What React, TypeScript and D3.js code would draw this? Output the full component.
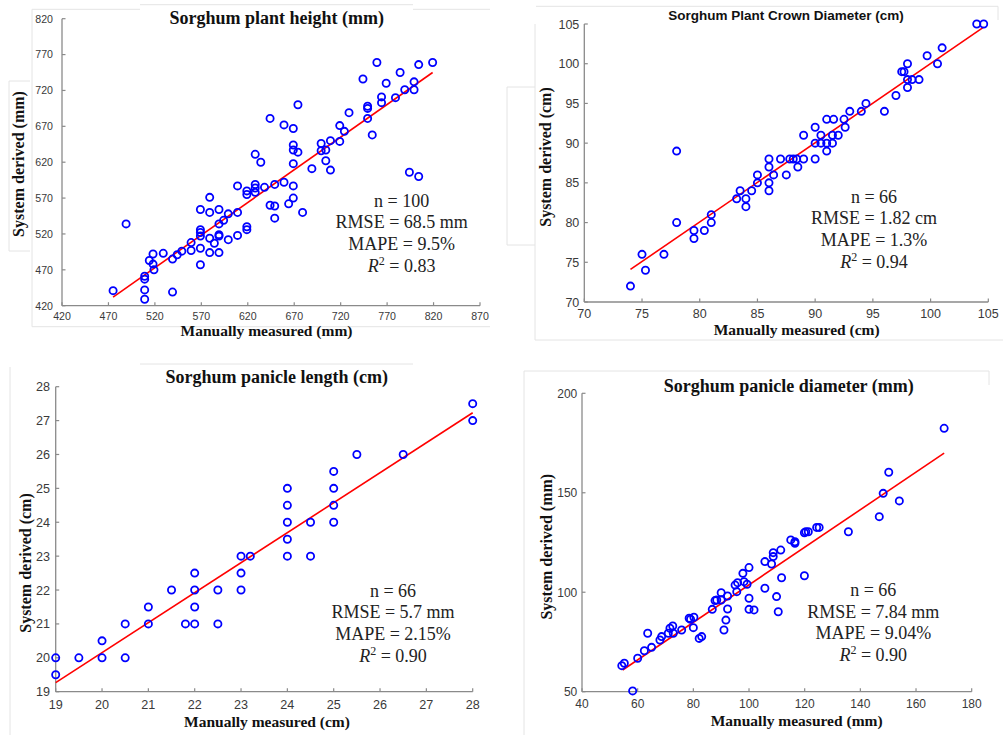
import React from "react";
import * as d3 from "d3";

type Pt = [number, number];

// plant height (mm)
const plantHeightPoints: Pt[] = [
  [475, 441], [489, 534], [509, 461], [509, 457], [509, 442], [509, 429],
  [514, 483], [518, 492], [518, 478], [519, 470], [529, 493], [539, 439],
  [539, 485], [544, 491], [549, 496], [559, 508], [559, 497], [569, 554],
  [569, 526], [569, 522], [569, 517], [569, 500], [569, 477], [579, 571],
  [579, 550], [579, 514], [579, 494], [584, 507], [589, 554], [589, 534],
  [589, 519], [589, 517], [589, 494], [594, 539], [599, 548], [599, 512],
  [609, 550], [609, 518], [619, 530], [619, 526], [619, 575], [619, 580],
  [609, 587], [628, 589], [628, 584], [628, 578], [628, 631], [634, 620],
  [638, 585], [644, 681], [649, 589], [659, 592], [659, 672], [669, 667],
  [669, 644], [669, 637], [674, 700], [674, 634], [669, 618], [669, 587],
  [669, 570], [689, 611], [699, 646], [699, 636], [704, 637], [704, 622],
  [709, 609], [709, 650], [719, 671], [719, 649], [724, 663], [729, 689],
  [744, 736], [749, 698], [749, 695], [749, 681], [754, 658], [759, 759],
  [764, 711], [764, 703], [769, 730], [779, 710], [784, 745], [789, 721],
  [794, 606], [799, 721], [799, 732], [804, 600], [804, 756], [819, 759],
  [644, 560], [649, 559], [649, 542], [664, 562], [679, 550],
];
const plantHeightFit: Pt[] = [[475, 432], [819, 745]];
const plantHeightTicks = [420, 470, 520, 570, 620, 670, 720, 770, 820, 870];
const plantHeightYTicks = [420, 470, 520, 570, 620, 670, 720, 770, 820];
const plantHeightStats = ["n = 100", "RMSE = 68.5 mm", "MAPE = 9.5%", "0.83"];

// crown diameter (cm)
const crownPoints: Pt[] = [
  [74, 72], [75, 76], [75.3, 74], [76.9, 76], [78, 80], [78, 89], [79.5, 79],
  [79.5, 78], [80.4, 79], [81, 80], [81, 81], [83.2, 83], [83.5, 84], [84, 83],
  [84, 82], [84.5, 84], [85, 86], [85, 85], [86, 88], [86, 87], [86, 85],
  [86, 84], [86.4, 86], [87, 88], [87.5, 86], [87.8, 88], [88.1, 88],
  [88.4, 88], [88.5, 87], [89, 91], [89, 88], [90, 92], [90, 90], [90, 88],
  [90.5, 91], [90.5, 90], [91, 93], [91, 90], [91, 89], [91.5, 91], [91.5, 90],
  [91.6, 93], [92, 91], [92.5, 93], [92.6, 92], [93, 94], [94, 94], [94.4, 95],
  [96, 94], [97, 96], [97.5, 99], [97.7, 99], [98, 100], [98, 98], [98.4, 98],
  [98, 97], [99, 98], [99.7, 101], [100.6, 100], [101, 102], [104, 105],
  [104.6, 105],
];
const crownFit: Pt[] = [[74, 74.1], [104.6, 104.6]];
const crownTicks = [70, 75, 80, 85, 90, 95, 100, 105];
const crownStats = ["n = 66", "RMSE = 1.82 cm", "MAPE = 1.3%", "0.94"];

// panicle length (cm)
const panicleLengthPoints: Pt[] = [
  [19, 20], [19, 19.5], [19.5, 20], [20, 20.5], [20, 20], [20.5, 21], [20.5, 20],
  [21, 21.5], [21, 21], [21.5, 22], [21.8, 21], [22, 22.5], [22, 22], [22, 21.5],
  [22, 21], [22.5, 22], [22.5, 21], [23, 23], [23, 22.5], [23, 22], [23.2, 23],
  [24, 25], [24, 24.5], [24, 24], [24, 23.5], [24, 23], [24.5, 24], [24.5, 23],
  [25, 25.5], [25, 25], [25, 24.5], [25, 24], [25.5, 26], [26.5, 26],
  [28, 27.5], [28, 27],
];
const panicleLengthFit: Pt[] = [[19, 19.27], [28, 27.23]];
const panicleLengthTicks = [19, 20, 21, 22, 23, 24, 25, 26, 27, 28];
const panicleLengthStats = ["n = 66", "RMSE = 5.7 mm", "MAPE = 2.15%", "0.90"];

// panicle diameter (mm)
const panicleDiameterPoints: Pt[] = [
  [54.3, 63.1], [55.2, 64.3], [58.2, 50.4], [60, 66.8], [62.4, 70.6],
  [63.6, 79.4], [65, 72.3], [68, 76], [68.6, 77.7], [71, 79.4], [71.6, 81.9],
  [72.6, 83], [72.8, 79.4], [75.8, 81], [78.5, 86.9], [79, 86.4], [80.2, 87.4],
  [80, 82.2], [82.1, 76.8], [83, 77.7], [86.8, 91.4], [87.8, 95.8], [88.4, 96.1],
  [90, 99.8], [90, 96.1], [91, 81], [91.7, 86], [92.3, 91.6], [92.3, 98.1],
  [95, 103.6], [95.9, 104.8], [95.6, 100.3], [97.8, 109.5], [98.2, 105.3],
  [99.3, 104], [100, 112.4], [100, 97], [100, 91.4], [101.8, 91.1],
  [105.7, 115.4], [105.7, 102], [108.1, 114.2], [108.7, 117.9], [108.7, 119.9],
  [109.9, 97.8], [110.5, 90.2], [111.4, 121.2], [111.7, 107.3], [115, 126.3],
  [116.5, 125.4], [116.5, 124.6], [119.9, 129.9], [120.4, 130.4],
  [121.3, 130.4], [119.9, 108.3], [124.3, 132.6], [125.2, 132.6],
  [135.7, 130.4], [146.8, 138], [148.2, 149.7], [150.2, 160.3], [154, 145.9],
  [170.1, 182.4],
];
const panicleDiameterFit: Pt[] = [[54.6, 60.9], [170.1, 169.9]];
const panicleDiameterTicks = [40, 60, 80, 100, 120, 140, 160, 180];
const panicleDiameterYTicks = [50, 100, 150, 200];
const panicleDiameterStats = ["n = 66", "RMSE = 7.84 mm", "MAPE = 9.04%", "0.90"];

const SERIF = "'Liberation Serif', 'Times New Roman', serif";
const SANS = "'Liberation Sans', Arial, sans-serif";
const AXIS = "#8a8a8a";
const TICK_TEXT = "#3a3a3a";
const FRAME = "#e4e4e4";

const panels = [
  {
    points: plantHeightPoints, fit: plantHeightFit,
    xTicks: plantHeightTicks, yTicks: plantHeightYTicks, stats: plantHeightStats,
    xDomain: [420, 870], yDomain: [420, 820],
    xRange: [62, 480], yRange: [305.7, 18.7],
    tickSize: 10.6, yTickGap: 9, xTickDy: 14.5,
    title: "Sorghum plant height (mm)", titleFont: SERIF, titleSize: 18, titleX: 276.7, titleY: 24,
    yLabel: "System derived (mm)", yLabelX: 18, yLabelY: 164,
    xLabel: "Manually measured (mm)", xLabelX: 266.5, xLabelY: 336,
    statsX: 401.7, statsY: 206.7,
    frames: [
      [32, 9.3, 140, 9.3], [140, 4.7, 413, 4.7], [413, 9.3, 490, 9.3],
      [32, 9.3, 32, 326.7], [32, 326.7, 490, 326.7],
      [9, 81, 9, 251], [9, 81, 30, 81], [9, 251, 30, 251],
    ],
  },
  {
    points: crownPoints, fit: crownFit,
    xTicks: crownTicks, yTicks: crownTicks, stats: crownStats,
    xDomain: [70, 105], yDomain: [70, 105],
    xRange: [584.3, 988.3], yRange: [302, 24],
    tickSize: 12.5, yTickGap: 5, xTickDy: 15.5,
    title: "Sorghum Plant Crown Diameter (cm)", titleFont: SANS, titleSize: 13.5, titleX: 786, titleY: 20,
    yLabel: "System derived (cm)", yLabelX: 545, yLabelY: 157,
    xLabel: "Manually measured (cm)", xLabelX: 796.7, xLabelY: 334.5,
    statsX: 874, statsY: 202.7,
    frames: [
      [536, 6.3, 998, 6.3], [998, 6.3, 998, 20], [535, 24, 535, 340],
      [535, 340, 1003, 340], [507, 87, 507, 245], [507, 87, 535, 87], [507, 245, 535, 245],
    ],
  },
  {
    points: panicleLengthPoints, fit: panicleLengthFit,
    xTicks: panicleLengthTicks, yTicks: panicleLengthTicks, stats: panicleLengthStats,
    xDomain: [19, 28], yDomain: [19, 28],
    xRange: [55.7, 472.7], yRange: [691.7, 386.7],
    tickSize: 12.6, yTickGap: 5.7, xTickDy: 17.5,
    title: "Sorghum panicle length (cm)", titleFont: SERIF, titleSize: 18, titleX: 276.7, titleY: 383,
    yLabel: "System derived (cm)", yLabelX: 25, yLabelY: 563,
    xLabel: "Manually measured (cm)", xLabelX: 267, xLabelY: 727,
    statsX: 393, statsY: 596.7,
    frames: [[140, 364, 413, 364], [10, 367, 10, 735]],
  },
  {
    points: panicleDiameterPoints, fit: panicleDiameterFit,
    xTicks: panicleDiameterTicks, yTicks: panicleDiameterYTicks, stats: panicleDiameterStats,
    xDomain: [40, 180], yDomain: [50, 200],
    xRange: [582, 971.7], yRange: [691.7, 393.3],
    tickSize: 12, yTickGap: 4.7, xTickDy: 16.5,
    title: "Sorghum panicle diameter (mm)", titleFont: SERIF, titleSize: 18, titleX: 788.7, titleY: 391.7,
    yLabel: "System derived (mm)", yLabelX: 546.7, yLabelY: 546.7,
    xLabel: "Manually measured (mm)", xLabelX: 796.7, xLabelY: 726,
    statsX: 873.3, statsY: 596,
    frames: [[524, 371, 989, 371], [524, 371, 524, 735], [989, 371, 989, 385]],
  },
];

function Panel({ p }: { p: any }) {
  const x = d3.scaleLinear().domain(p.xDomain).range(p.xRange);
  const y = d3.scaleLinear().domain(p.yDomain).range(p.yRange);
  const fitLine = d3.line<Pt>().x((d) => x(d[0])).y((d) => y(d[1]));
  const x0 = p.xRange[0];
  const y0 = p.yRange[0];
  const lh = 21.7;

  return (
    <g>
      {p.frames.map((f: number[], i: number) => (
        <line key={"f" + i} x1={f[0]} y1={f[1]} x2={f[2]} y2={f[3]} stroke={FRAME} strokeWidth={1} />
      ))}
      {/* axes */}
      <line x1={x0} x2={p.xRange[1]} y1={y0} y2={y0} stroke={AXIS} strokeWidth={1.3} />
      <line x1={x0} x2={x0} y1={y0} y2={p.yRange[1]} stroke={AXIS} strokeWidth={1.3} />
      {p.xTicks.map((t: number) => (
        <g key={"x" + t}>
          <line x1={x(t)} x2={x(t)} y1={y0} y2={y0 - 3.5} stroke={AXIS} strokeWidth={1.2} />
          <text x={x(t)} y={y0 + p.xTickDy} textAnchor="middle" fontFamily={SANS}
            fontSize={p.tickSize} fill={TICK_TEXT}>{t}</text>
        </g>
      ))}
      {p.yTicks.map((t: number) => (
        <g key={"y" + t}>
          <line x1={x0} x2={x0 + 3.5} y1={y(t)} y2={y(t)} stroke={AXIS} strokeWidth={1.2} />
          <text x={x0 - p.yTickGap} y={y(t) + p.tickSize * 0.36} textAnchor="end" fontFamily={SANS}
            fontSize={p.tickSize} fill={TICK_TEXT}>{t}</text>
        </g>
      ))}
      {/* fit line */}
      <path d={fitLine(p.fit) || ""} stroke="#ff0000" strokeWidth={1.6} fill="none" />
      {/* points */}
      {p.points.map((d: Pt, i: number) => (
        <circle key={i} cx={x(d[0])} cy={y(d[1])} r={3.6} fill="none" stroke="#0000ff" strokeWidth={1.8} />
      ))}
      {/* titles */}
      <text x={p.titleX} y={p.titleY} textAnchor="middle" fontFamily={p.titleFont}
        fontWeight="bold" fontSize={p.titleSize} fill="#111">{p.title}</text>
      <text transform={`translate(${p.yLabelX + 5.5},${p.yLabelY}) rotate(-90)`} textAnchor="middle"
        fontFamily={SERIF} fontWeight="bold" fontSize={16} fill="#111">{p.yLabel}</text>
      <text x={p.xLabelX} y={p.xLabelY} textAnchor="middle" fontFamily={SERIF}
        fontWeight="bold" fontSize={15.5} fill="#111">{p.xLabel}</text>
      {/* stats */}
      <g fontFamily={SERIF} fontSize={18} fill="#222" textAnchor="middle">
        <text x={p.statsX} y={p.statsY}>{p.stats[0]}</text>
        <text x={p.statsX} y={p.statsY + lh}>{p.stats[1]}</text>
        <text x={p.statsX} y={p.statsY + lh * 2}>{p.stats[2]}</text>
        <text x={p.statsX} y={p.statsY + lh * 3}>
          <tspan fontStyle="italic">R</tspan>
          <tspan dy={-7} fontSize={12}>2</tspan>
          <tspan dy={7}>{" = " + p.stats[3]}</tspan>
        </text>
      </g>
    </g>
  );
}

export default function App() {
  return (
    <svg width={1003} height={735} style={{ position: "absolute", left: 0, top: 0, background: "#fff" }}>
      <rect width={1003} height={735} fill="#fff" />
      {panels.map((p, i) => (
        <Panel key={i} p={p} />
      ))}
    </svg>
  );
}
